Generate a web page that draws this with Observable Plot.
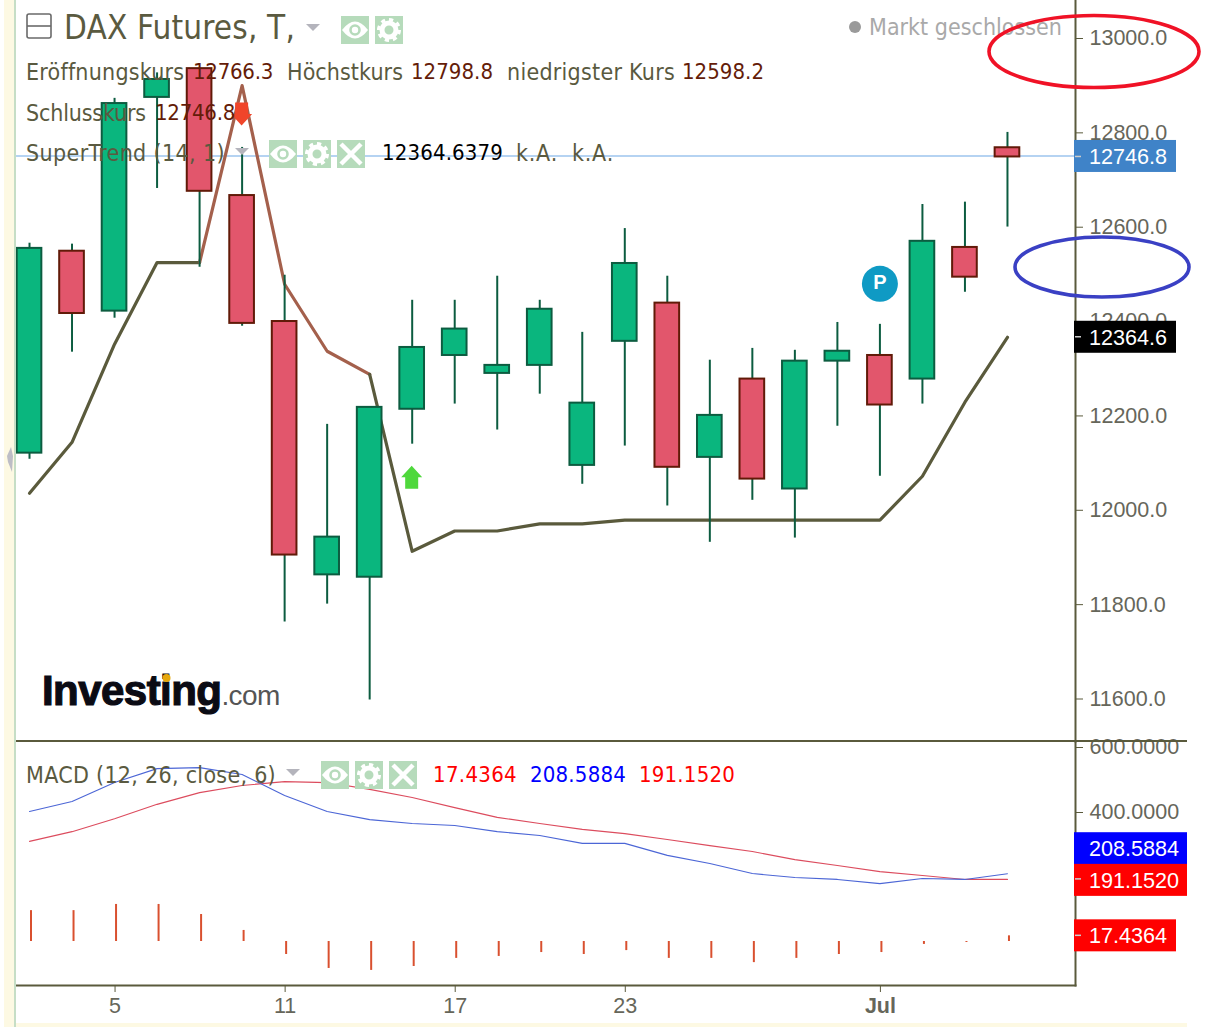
<!DOCTYPE html>
<html lang="de">
<head>
<meta charset="utf-8">
<title>DAX Futures</title>
<script src="https://cdn.jsdelivr.net/npm/d3@7"></script>
<script src="https://cdn.jsdelivr.net/npm/@observablehq/plot@0.6"></script>
<style>
html,body{margin:0;padding:0;background:#fff;width:1223px;height:1027px;overflow:hidden}
#page{position:relative;width:1223px;height:1027px;overflow:hidden}
#page svg{position:absolute;left:0;overflow:visible;background:transparent}
.strip{position:absolute;background:#fdf9e3}
.t{position:absolute;white-space:pre;font-family:"DejaVu Sans",sans-serif;font-stretch:condensed;font-size:22px;line-height:30px;height:30px;color:#5a5a40}
.v{color:#641c08}
#logo{position:absolute;left:42px;top:666px;white-space:pre;font-family:"Liberation Sans",sans-serif;line-height:50px;height:50px}
</style>
</head>
<body>
<div id="page"></div>
<script>
// ---- data ----
const opens  = [12119,12547,12420,12873,12934,12665,12398,11861,11856,12212,12326,12288,12305,12093,12356,12437,12110,12276,12043,12314,12326,12276,12555,12766.3];
const highs  = [12564,12562,12871,12925,12934,12767,12496,12180,12216,12443,12443,12494,12443,12375,12595,12494,12316,12341,12337,12396,12392,12646,12651,12798.8];
const lows   = [12106,12333,12405,12680,12513,12388,11761,11799,11596,12138,12223,12168,12244,12053,12134,12007,11930,12019,11939,12176,12070,12223,12460,12598.2];
const closes = [12553,12415,12860,12911,12674,12394,11903,11941,12216,12343,12382,12305,12424,12225,12521,12089,12199,12064,12314,12335,12221,12568,12492,12746.8];
const superTrend = [12034,12142,12350,12523,12523,12898,12477,12335,12286,11911,11954,11954,11969,11969,11977,11977,11977,11977,11977,11977,11977,12070,12227,12364.6];
const macdLine   = [400,431,489,532,535,514,449,400,375,363,357,338,326,302,302,265,240,209,197,191,178,194,191,208.5884];
const signalLine = [308,338,378,422,458,480,492,489,468,443,412,382,363,345,332,314,295,277,252,234,215,203,191,191.152];
const macdHist   = [95,95,114,114,83,34,-40,-83,-89,-77,-52,-46,-34,-40,-28,-52,-52,-65,-52,-40,-34,-9,-3,17.4364];
const priceTicks = [11600,11800,12000,12200,12400,12600,12800,13000];
const macdTicks  = [400,600];
const dayTicks   = [2,6,10,14,20];
const dayLabels  = ["5","11","17","23","Jul"];
const lastPrice = 12746.8;
const lastTrend = 12364.6;

// ---- colours ----
const OLIVE="#5a5a3c", BROWN="#a4604c", LABEL="#66665a";
const GREEN="#0ab67e", GREENDK="#0c5c40", RED="#e2566c", REDDK="#611a08";

const page=document.getElementById("page");
const idx=d3.range(opens.length);
const ups=idx.filter(i=>closes[i]>=opens[i]);
const downs=idx.filter(i=>closes[i]<opens[i]);
const halfBody=0.29;
const xDomain=[-0.306,24.6];
const chartFont={fontFamily:"Liberation Sans, Arial, sans-serif",fontSize:"21.5px",background:"transparent",overflow:"visible"};

// ---- price panel ----
const stSegments=[[0,4,OLIVE],[4,8,BROWN],[8,23,OLIVE]];
const priceChart=Plot.plot({
  width:1223,height:741,marginLeft:16,marginRight:148,marginTop:0,marginBottom:0,
  style:chartFont,
  x:{domain:xDomain,axis:null},
  y:{domain:[11600,13000],range:[697.5,37]},
  marks:[
    Plot.ruleY([lastPrice],{stroke:"#9cc4ee",strokeWidth:1.5,dy:-1}),
    ...stSegments.map(([a,b,c])=>Plot.line(d3.range(a,b+1),{x:i=>i,y:i=>superTrend[i],stroke:c,strokeWidth:3.2,curve:"linear"})),
    Plot.ruleX(idx,{x:i=>i,y1:i=>lows[i],y2:i=>highs[i],stroke:GREENDK,strokeWidth:2}),
    Plot.rect(ups,{x1:i=>i-halfBody,x2:i=>i+halfBody,y1:i=>opens[i],y2:i=>closes[i],fill:GREEN,stroke:GREENDK,strokeWidth:2}),
    Plot.rect(downs,{x1:i=>i-halfBody,x2:i=>i+halfBody,y1:i=>opens[i],y2:i=>closes[i],fill:RED,stroke:REDDK,strokeWidth:2}),
    Plot.dot([20],{x:i=>i,y:()=>12478,r:18,fill:"#0f9ac4"}),
    Plot.text([20],{x:i=>i,y:()=>12478,text:()=>"P",fill:"#fff",fontWeight:"bold",fontSize:20,dy:-1}),
    Plot.frame({anchor:"right",stroke:OLIVE,strokeWidth:2}),
    Plot.axisY({anchor:"right",ticks:priceTicks,tickFormat:d3.format(".1f"),label:null,tickSize:7,tickPadding:7,stroke:OLIVE,fill:LABEL,dy:1})
  ]
});
priceChart.style.top="0px";
page.appendChild(priceChart);

// ---- macd panel ----
const macdChart=Plot.plot({
  width:1223,height:286,marginLeft:16,marginRight:148,marginTop:0,marginBottom:42,
  style:chartFont,
  x:{domain:xDomain,axis:null},
  y:{domain:[-135.4,615.4]},
  marks:[
    Plot.ruleX(idx,{x:i=>i,y1:()=>0,y2:i=>macdHist[i],stroke:"#d9502f",strokeWidth:2,dx:1.5}),
    Plot.line(idx,{x:i=>i,y:i=>signalLine[i],stroke:"#dc4c5e",strokeWidth:1.1}),
    Plot.line(idx,{x:i=>i,y:i=>macdLine[i],stroke:"#4c66d6",strokeWidth:1.1}),
    Plot.frame({anchor:"right",stroke:OLIVE,strokeWidth:2}),
    Plot.frame({anchor:"bottom",stroke:OLIVE,strokeWidth:2}),
    Plot.axisY({anchor:"right",ticks:macdTicks,tickFormat:d3.format(".4f"),label:null,tickSize:7,tickPadding:7,stroke:OLIVE,fill:LABEL,dy:1}),
    Plot.axisX({anchor:"bottom",ticks:dayTicks,tickFormat:i=>dayLabels[dayTicks.indexOf(i)],label:null,tickSize:7,tickPadding:5,stroke:OLIVE,fill:LABEL,dx:0.5})
  ]
});
macdChart.style.top="741px";
page.appendChild(macdChart);
d3.select(macdChart).selectAll("text").filter(function(){return this.textContent==="Jul"}).attr("font-weight","bold");

// ---- price tags, anchored on the scales ----
function tag(svg,value,text,fill,right,offset){
  const y=svg.scale("y").apply(value)+offset;
  const g=d3.select(svg).append("g");
  g.append("rect").attr("x",1074).attr("y",y-16).attr("width",right-1074).attr("height",32).attr("fill",fill);
  g.append("line").attr("x1",1075).attr("x2",1081).attr("y1",y-offset).attr("y2",y-offset).attr("stroke","#ccc").attr("stroke-width",1.5);
  g.append("text").attr("x",1089).attr("y",y).attr("dy","0.36em").attr("text-anchor","start").attr("fill","#fff").attr("font-size","21.6px").text(text);
}
tag(priceChart,lastPrice,"12746.8","#3f83c8",1176,-0.5);
tag(priceChart,lastTrend,"12364.6","#000",1176,0);
tag(macdChart,macdHist[23],"17.4364","#ff0000",1176,0);
tag(macdChart,macdLine[23],"208.5884","#0000ff",1187,-25);
tag(macdChart,signalLine[23],"191.1520","#ff0000",1187,1);

// ---- signal arrows, anchored on the scales ----
function arrow(svg,i,value,dir,fill){
  const x=svg.scale("x").apply(i),y=svg.scale("y").apply(value);
  const p=[[0,-11.5],[10.5,0],[6.5,0],[6.5,11.5],[-6.5,11.5],[-6.5,0],[-10.5,0]].map(([a,b])=>[x+a,y+b*dir].join(",")).join(" ");
  d3.select(svg).append("polygon").attr("points",p).attr("fill",fill);
}
arrow(priceChart,9,12067,1,"#4fd83c");
arrow(priceChart,5,12837,-1,"#f0452a");

// ---- header texts: width sets the tracking so each label spans what the source shows ----
function label(str,x,cy,width,cls,extra){
  const s=document.createElement("span");
  s.className="t "+(cls||"");
  s.textContent=str;
  s.style.left=x+"px";
  s.style.top=(cy-15)+"px";
  Object.assign(s.style,extra||{});
  page.appendChild(s);
  const w=s.getBoundingClientRect().width;
  s.style.letterSpacing=((width-w)/str.length).toFixed(3)+"px";
}
const wordSize={fontSize:"23px"};
label("DAX Futures, T,",64,28,231,"",{fontSize:"33px"});
label("Eröffnungskurs",26,72,158,"",wordSize);
label("12766.3",193,72,80,"v");
label("Höchstkurs",287,72,116,"",wordSize);
label("12798.8",411,72,82,"v");
label("niedrigster Kurs",507,72,168,"",wordSize);
label("12598.2",682,72,82,"v");
label("Schlusskurs",26,113,120,"",wordSize);
label("12746.8",155,113,80,"v");
label("SuperTrend (14, 1)",26,153,199,"",wordSize);
label("12364.6379",382,153,121,"",{color:"#000"});
label("k.A.",516,153,42,"",wordSize);
label("k.A.",572,153,42,"",wordSize);
label("MACD (12, 26, close, 6)",26,775,250,"",wordSize);
label("17.4364",433,775,84,"",{color:"#ff0000"});
label("208.5884",530,775,96,"",{color:"#0000ff"});
label("191.1520",639,775,96,"",{color:"#ff0000"});
label("Markt geschlossen",869,27,193,"",{color:"#a9a9a9",fontSize:"23px"});

// ---- logo ----
const logo=document.createElement("div");
logo.id="logo";
logo.innerHTML='<span style="font-size:42px;font-weight:bold;color:#0b0b14;letter-spacing:-0.55px;-webkit-text-stroke:1.2px #0b0b14">Investing</span><span style="font-size:28px;color:#555;letter-spacing:-0.6px">.com</span>';
page.appendChild(logo);

// ---- chrome: page strips, icons, hand-drawn ellipses ----
for(const [l,t,w,h] of [[4,0,11,1027],[4,1023,1183,4]]){
  const d=document.createElement("div");d.className="strip";
  Object.assign(d.style,{left:l+"px",top:t+"px",width:w+"px",height:h+"px"});
  page.appendChild(d);
}
const ns=d3.select(page).append("svg").attr("width",1223).attr("height",1027).style("top","0px").style("pointer-events","none");
ns.append("line").attr("x1",15).attr("x2",15).attr("y1",0).attr("y2",1027).attr("stroke","#c6dec6").attr("stroke-width",2);
ns.append("line").attr("x1",16).attr("x2",1187).attr("y1",741).attr("y2",741).attr("stroke",OLIVE).attr("stroke-width",2);
ns.append("polygon").attr("points","11,447 13,456 12,472 8,462 7,456").attr("fill","#bdbdc6");
// collapse box
ns.append("rect").attr("x",27).attr("y",14).attr("width",24).attr("height",24).attr("rx",2).attr("fill","none").attr("stroke","#6a6a6a").attr("stroke-width",1.6);
ns.append("line").attr("x1",27).attr("x2",51).attr("y1",26).attr("y2",26).attr("stroke","#6a6a6a").attr("stroke-width",1.6);
// dropdown triangles
for(const [x,y] of [[306,24],[235,148],[286,769]])
  ns.append("polygon").attr("points",`${x},${y} ${x+14},${y} ${x+7},${y+7}`).attr("fill","#b4b4bc");
// toolbar icons
function icon(kind,x,y){
  const g=ns.append("g").attr("transform",`translate(${x},${y})`);
  g.append("rect").attr("width",28).attr("height",28).attr("fill","#b6dbbb");
  if(kind==="eye"){
    g.append("path").attr("d","M1,14 Q14,-3 27,14 Q14,31 1,14Z").attr("fill","#fff");
    g.append("circle").attr("cx",14).attr("cy",14).attr("r",4.5).attr("fill","none").attr("stroke","#b6dbbb").attr("stroke-width",2.6);
  } else if(kind==="gear"){
    g.append("circle").attr("cx",14).attr("cy",14).attr("r",7).attr("fill","none").attr("stroke","#fff").attr("stroke-width",5);
    g.append("circle").attr("cx",14).attr("cy",14).attr("r",10.5).attr("fill","none").attr("stroke","#fff").attr("stroke-width",3).attr("stroke-dasharray","4.2 4");
  } else {
    g.append("path").attr("d","M4,4 L24,24 M24,4 L4,24").attr("stroke","#fff").attr("stroke-width",4.5);
  }
}
icon("eye",341,16);icon("gear",375,16);
icon("eye",269,140);icon("gear",303,140);icon("x",337,140);
icon("eye",321,761);icon("gear",355,761);icon("x",389,761);
// status dot
ns.append("circle").attr("cx",855).attr("cy",27).attr("r",6).attr("fill","#9a9a9a");
// logo dot
ns.append("circle").attr("cx",166.5).attr("cy",678).attr("r",4).attr("fill","#e6a80c");
// annotations
ns.append("ellipse").attr("cx",1094).attr("cy",51.5).attr("rx",105).attr("ry",36).attr("fill","none").attr("stroke","#f01226").attr("stroke-width",3.6);
ns.append("ellipse").attr("cx",1102).attr("cy",267).attr("rx",87).attr("ry",30).attr("fill","none").attr("stroke","#3a40c4").attr("stroke-width",3.6);
</script>
</body>
</html>
